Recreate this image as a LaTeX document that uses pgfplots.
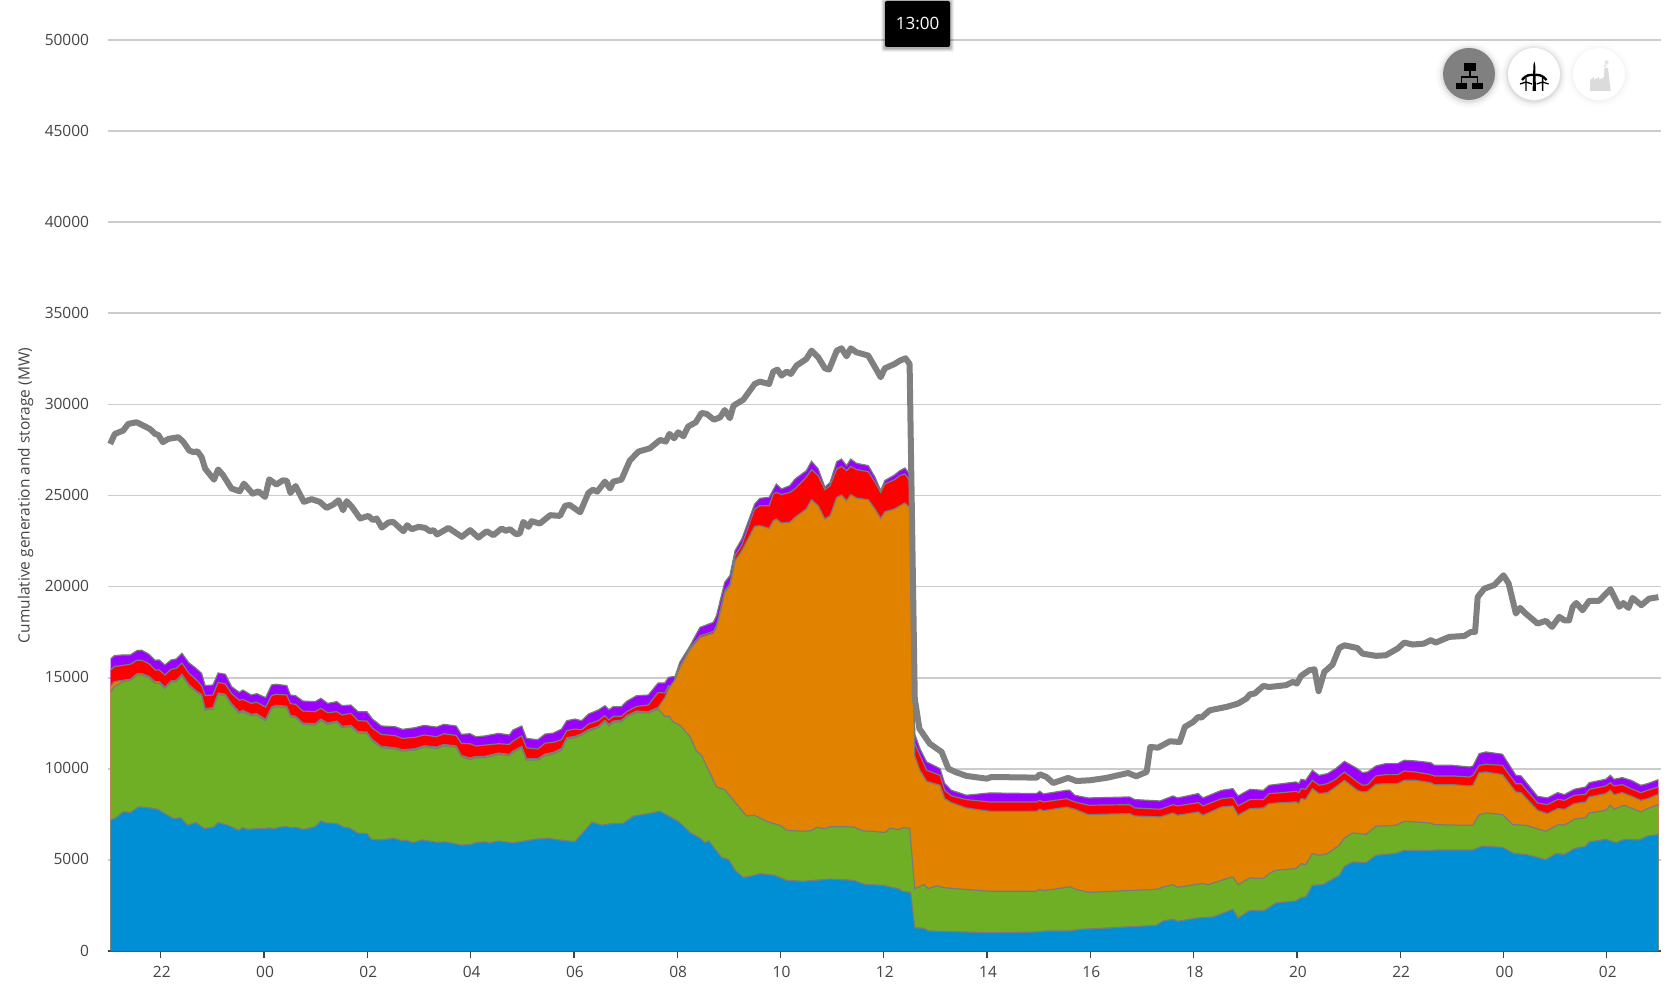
\documentclass[border=0pt]{standalone}
\usepackage{pgfplots}
\usepackage{pgfplotstable}
\pgfplotsset{compat=1.18}
\usepackage{fontspec}
\setmainfont{Open Sans}
\definecolor{cblue}{HTML}{008FD5}
\definecolor{cgreen}{HTML}{6FAF26}
\definecolor{corange}{HTML}{E28300}
\definecolor{cred}{HTML}{FF0000}
\definecolor{cpurple}{HTML}{9900FF}
\definecolor{cline}{HTML}{808080}
\definecolor{cedge}{HTML}{7A7A7A}
\definecolor{cgrid}{HTML}{CCCCCC}
\definecolor{ctext}{HTML}{444444}

\pgfplotstableread{
h v
-2.97 16030
-2.90 16210
-2.73 16250
-2.59 16250
-2.46 16490
-2.37 16510
-2.23 16290
-2.11 15960
-2.03 15975
-1.92 15700
-1.80 15975
-1.70 16030
-1.59 16340
-1.46 15830
-1.32 15520
-1.21 15240
-1.14 14565
-0.99 14600
-0.89 15260
-0.75 15190
-0.63 14510
-0.48 14200
-0.41 14325
-0.25 14050
-0.14 14125
0.03 13905
0.145 14600
0.23 14640
0.44 14565
0.51 14050
0.61 14015
0.75 13720
0.99 13685
1.10 13870
1.23 13590
1.41 13685
1.51 13465
1.68 13500
1.82 13135
1.99 13135
2.10 12730
2.27 12350
2.54 12310
2.68 12165
2.92 12255
3.10 12385
3.34 12290
3.48 12440
3.72 12350
3.82 11890
3.99 11925
4.10 11760
4.27 11800
4.54 11945
4.75 11855
4.82 12130
4.99 12350
5.08 11670
5.30 11595
5.44 11905
5.60 11960
5.76 12180
5.86 12640
6.02 12730
6.15 12640
6.28 13005
6.47 13225
6.60 13460
6.68 13245
6.76 13410
6.92 13410
7.02 13700
7.21 14010
7.44 14050
7.63 14710
7.76 14710
7.83 15020
7.96 15075
8.05 15840
8.25 16760
8.44 17760
8.70 18040
8.76 18400
8.92 20235
9.02 20600
9.12 21970
9.25 22610
9.50 24530
9.60 24845
9.78 24900
9.92 25630
10.02 25360
10.18 25540
10.28 25900
10.50 26360
10.60 26880
10.73 26460
10.86 25450
10.96 25720
11.09 26860
11.18 27000
11.28 26640
11.36 27000
11.47 26770
11.70 26640
11.83 26000
11.94 25270
12.02 25820
12.21 26130
12.31 26360
12.41 26510
12.50 26180
12.60 11900
12.70 11110
12.83 10380
13.09 10010
13.18 9190
13.31 8820
13.60 8550
14.05 8675
14.96 8640
15.02 8770
15.09 8620
15.54 8820
15.60 8820
15.70 8545
15.96 8400
16.76 8455
16.86 8310
17.35 8235
17.60 8510
17.69 8400
18.09 8640
18.18 8400
18.54 8820
18.76 8910
18.86 8510
19.09 8875
19.35 8820
19.46 9095
19.72 9185
19.98 9280
20.04 9190
20.08 9425
20.17 9370
20.30 9920
20.43 9640
20.59 9735
20.75 10010
20.92 10410
21.17 10010
21.27 9790
21.37 9830
21.53 10155
21.72 10285
21.95 10285
22.08 10470
22.30 10430
22.59 10340
22.66 10190
23.01 10190
23.34 10100
23.41 10155
23.53 10835
23.66 10925
23.98 10800
24.24 9645
24.34 9610
24.66 8490
24.85 8400
25.05 8690
25.18 8580
25.37 8875
25.59 9000
25.66 9240
25.98 9425
26.07 9645
26.14 9425
26.30 9515
26.47 9370
26.66 9095
26.79 9185
27.00 9405
}\tpurple

\pgfplotstableread{
h v
-2.97 15425
-2.90 15610
-2.73 15680
-2.59 15740
-2.46 15960
-2.37 15960
-2.23 15770
-2.11 15425
-2.03 15425
-1.92 15150
-1.80 15460
-1.70 15520
-1.59 15810
-1.46 15260
-1.32 14910
-1.21 14565
-1.14 14015
-0.99 14050
-0.89 14750
-0.75 14655
-0.63 14140
-0.48 13760
-0.41 13810
-0.25 13595
-0.14 13650
0.03 13390
0.145 14015
0.23 14090
0.44 14050
0.51 13575
0.61 13540
0.75 13170
0.99 13135
1.10 13320
1.23 13080
1.41 13135
1.51 12950
1.68 13045
1.82 12640
1.99 12620
2.10 12220
2.27 11890
2.54 11815
2.68 11670
2.92 11725
3.10 11855
3.34 11760
3.48 11925
3.72 11835
3.82 11395
3.99 11375
4.10 11250
4.27 11300
4.54 11375
4.75 11340
4.82 11525
4.99 11815
5.08 11155
5.30 11085
5.44 11410
5.60 11450
5.76 11600
5.86 12090
6.02 12180
6.15 12145
6.28 12455
6.47 12640
6.60 12915
6.68 12675
6.76 12880
6.92 12880
7.02 13130
7.21 13425
7.44 13500
7.63 14195
7.76 14160
7.83 14560
7.90 14420
7.96 15000
8.05 15620
8.25 16650
8.44 17300
8.70 17540
8.76 17850
8.92 19770
9.02 20140
9.12 21700
9.25 22280
9.50 24260
9.60 24440
9.78 24440
9.86 25080
9.92 25170
10.02 25050
10.18 25170
10.28 25360
10.50 26000
10.60 26420
10.73 26090
10.86 25320
10.96 25540
11.09 26460
11.18 26600
11.28 26360
11.36 26600
11.47 26420
11.70 26310
11.83 25720
11.94 25170
12.02 25630
12.21 25870
12.31 26090
12.41 26180
12.50 25815
12.60 11400
12.70 10740
12.83 9920
13.09 9640
13.18 8820
13.31 8510
13.60 8310
14.05 8180
14.96 8180
15.02 8270
15.09 8180
15.54 8360
15.70 8180
15.96 8000
16.76 8030
16.86 7850
17.35 7780
17.60 8030
17.69 7960
18.09 8145
18.18 7960
18.54 8360
18.76 8420
18.86 7960
19.09 8310
19.35 8310
19.46 8640
19.72 8690
19.98 8765
20.04 8700
20.08 8910
20.17 8875
20.30 9370
20.43 9095
20.59 9185
20.75 9425
20.92 9825
21.17 9280
21.27 9095
21.37 9130
21.53 9610
21.72 9680
21.95 9680
22.08 9880
22.30 9825
22.59 9680
22.66 9610
23.01 9610
23.34 9550
23.41 9645
23.53 10190
23.66 10250
23.98 10190
24.24 9185
24.34 9185
24.66 8125
24.85 8030
25.05 8325
25.18 8270
25.37 8545
25.59 8600
25.66 8875
25.98 9060
26.07 9240
26.14 9060
26.30 9130
26.47 8910
26.66 8690
26.79 8820
27.00 9000
}\tred

\pgfplotstableread{
h v
-2.97 14565
-2.90 14785
-2.73 14860
-2.59 14910
-2.46 15225
-2.37 15225
-2.23 15080
-2.11 14785
-2.03 14785
-1.92 14490
-1.80 14820
-1.70 14860
-1.59 15190
-1.46 14640
-1.32 14290
-1.21 14090
-1.14 13300
-0.99 13355
-0.89 14160
-0.75 14090
-0.63 13575
-0.48 13115
-0.41 13210
-0.25 12990
-0.14 13025
0.03 12715
0.145 13390
0.23 13485
0.44 13430
0.51 12935
0.61 12880
0.75 12510
0.99 12475
1.10 12730
1.23 12510
1.41 12620
1.51 12330
1.68 12385
1.82 12035
1.99 12020
2.10 11595
2.27 11230
2.54 11155
2.68 11050
2.92 11100
3.10 11265
3.34 11195
3.48 11340
3.72 11250
3.82 10735
3.99 10590
4.10 10680
4.27 10680
4.54 10865
4.75 10790
4.82 10975
4.99 11230
5.08 10550
5.30 10550
5.44 10810
5.60 10900
5.76 11120
5.86 11705
6.02 11780
6.15 11925
6.28 12145
6.47 12330
6.60 12660
6.68 12440
6.76 12620
6.92 12660
7.02 12915
7.21 13170
7.44 13130
7.63 13370
7.76 13900
7.83 14400
7.96 14900
8.05 15570
8.25 16570
8.44 17210
8.70 17450
8.76 17760
8.92 19680
9.02 20050
9.12 21420
9.25 21970
9.50 23310
9.60 23345
9.78 23200
9.86 23620
9.92 23710
10.02 23490
10.18 23530
10.28 23800
10.50 24260
10.60 24770
10.73 24440
10.86 23710
10.96 23890
11.09 24900
11.18 25030
11.28 24720
11.36 25050
11.47 24860
11.70 24770
11.83 24260
11.94 23750
12.02 24110
12.21 24260
12.31 24440
12.41 24590
12.50 24350
12.60 10700
12.70 9920
12.83 9315
13.09 9095
13.18 8360
13.31 8145
13.60 7850
14.05 7670
14.96 7670
15.02 7780
15.09 7700
15.54 7900
15.70 7780
15.96 7485
16.76 7540
16.86 7410
17.35 7360
17.60 7575
17.69 7450
18.09 7630
18.18 7450
18.54 7905
18.76 7960
18.86 7450
19.09 7815
19.35 7850
19.46 8090
19.72 8145
19.98 8180
20.04 8110
20.08 8360
20.17 8325
20.30 8910
20.43 8640
20.59 8690
20.75 9000
20.92 9370
21.17 8820
21.27 8730
21.37 8765
21.53 9150
21.72 9185
21.95 9185
22.08 9370
22.30 9370
22.59 9240
22.66 9130
23.01 9130
23.34 9060
23.41 9095
23.53 9790
23.66 9825
23.98 9680
24.24 8730
24.34 8690
24.66 7720
24.85 7540
25.05 7815
25.18 7780
25.37 8090
25.59 8180
25.66 8455
25.98 8640
26.07 8820
26.14 8580
26.30 8690
26.47 8510
26.66 8270
26.79 8360
27.00 8600
}\torange

\pgfplotstableread{
h v
-2.97 14235
-2.90 14510
-2.73 14785
-2.59 14860
-2.46 15150
-2.37 15150
-2.23 15000
-2.11 14690
-2.03 14690
-1.92 14420
-1.80 14750
-1.70 14785
-1.59 15115
-1.46 14565
-1.32 14235
-1.21 14015
-1.14 13230
-0.99 13280
-0.89 14090
-0.75 14015
-0.63 13500
-0.48 13045
-0.41 13135
-0.25 12915
-0.14 12950
0.03 12640
0.145 13320
0.23 13410
0.44 13355
0.51 12860
0.61 12805
0.75 12440
0.99 12400
1.10 12660
1.23 12440
1.41 12550
1.51 12255
1.68 12310
1.82 11960
1.99 11945
2.10 11525
2.27 11155
2.54 11085
2.68 10975
2.92 11030
3.10 11195
3.34 11120
3.48 11265
3.72 11175
3.82 10660
3.99 10515
4.10 10605
4.27 10605
4.54 10790
4.75 10715
4.82 10900
4.99 11155
5.08 10480
5.30 10480
5.44 10720
5.60 10810
5.76 11030
5.86 11630
6.02 11705
6.15 11850
6.28 12070
6.47 12255
6.60 12585
6.68 12365
6.76 12550
6.92 12585
7.02 12840
7.21 13095
7.44 13060
7.63 13280
7.76 12880
7.85 12880
7.92 12570
8.05 12390
8.25 11750
8.37 10980
8.47 10740
8.76 9000
8.92 8860
9.34 7410
9.50 7450
9.76 7080
9.99 6900
10.12 6625
10.44 6570
10.60 6605
10.70 6790
10.86 6715
10.96 6825
11.41 6810
11.60 6590
11.80 6570
12.02 6500
12.12 6735
12.28 6660
12.38 6770
12.50 6735
12.60 3420
12.78 3640
12.86 3420
13.02 3570
13.22 3460
14.05 3275
14.96 3275
15.02 3385
15.09 3310
15.47 3460
15.60 3530
15.73 3370
15.96 3220
16.44 3275
17.28 3385
17.41 3510
17.60 3640
17.69 3495
18.06 3660
18.18 3700
18.28 3640
18.70 4025
18.76 4060
18.86 3640
19.09 4010
19.35 3970
19.46 4245
19.59 4430
19.98 4520
20.08 4795
20.17 4740
20.30 5345
20.43 5250
20.59 5345
20.82 5800
20.92 6200
21.08 6480
21.34 6405
21.53 6845
21.92 6900
22.08 7120
22.56 7030
22.66 6935
23.21 6900
23.41 6900
23.53 7485
23.66 7575
23.98 7485
24.18 6935
24.43 6900
24.82 6570
25.08 6955
25.18 6900
25.37 7230
25.59 7320
25.66 7575
25.98 7720
26.07 8000
26.14 7780
26.34 8000
26.66 7630
26.79 7815
27.00 8035
}\tgreen

\pgfplotstableread{
h v
-2.97 7180
-2.87 7310
-2.73 7640
-2.59 7600
-2.43 7910
-2.23 7860
-2.06 7780
-1.89 7490
-1.75 7270
-1.61 7310
-1.48 6900
-1.32 7050
-1.15 6720
-0.97 6810
-0.89 7050
-0.70 6900
-0.49 6630
-0.41 6780
-0.32 6670
-0.14 6720
0.03 6720
0.10 6760
0.20 6720
0.30 6790
0.44 6830
0.51 6760
0.61 6795
0.75 6670
0.99 6810
1.10 7140
1.20 7030
1.41 7000
1.55 6790
1.65 6760
1.82 6465
1.99 6450
2.08 6120
2.27 6100
2.51 6190
2.68 6040
2.75 6080
2.89 5950
3.06 6100
3.34 5970
3.51 5990
3.82 5810
3.99 5840
4.10 5950
4.30 5990
4.35 5920
4.54 6040
4.82 5930
5.10 6060
5.24 6135
5.51 6190
5.70 6100
6.02 6000
6.35 7070
6.54 6900
6.74 7000
6.95 7000
7.15 7400
7.46 7550
7.665 7670
7.83 7410
8.02 7120
8.25 6500
8.44 6200
8.54 5950
8.61 6040
8.86 5140
9.00 5010
9.12 4430
9.28 4040
9.47 4135
9.60 4245
9.89 4150
10.12 3880
10.44 3825
10.96 3950
11.41 3880
11.63 3660
11.99 3600
12.28 3420
12.38 3260
12.52 3220
12.60 1280
12.78 1245
12.86 1100
13.09 1080
14.05 1005
14.96 1040
15.15 1100
15.60 1100
15.80 1190
16.31 1260
17.28 1410
17.41 1650
17.60 1740
17.69 1630
18.06 1810
18.38 1870
18.76 2290
18.86 1810
19.09 2230
19.35 2200
19.46 2380
19.59 2635
19.98 2745
20.08 2930
20.17 2965
20.30 3605
20.50 3640
20.82 4155
20.92 4650
21.08 4885
21.34 4850
21.53 5250
21.92 5360
22.08 5525
22.56 5510
22.69 5545
23.40 5545
23.59 5750
23.98 5690
24.21 5345
24.43 5305
24.82 5015
25.01 5345
25.18 5305
25.37 5620
25.59 5750
25.66 5985
25.98 6130
26.18 5950
26.34 6130
26.63 6095
26.79 6315
27.00 6385
}\tblue

\pgfplotstableread{
h v
-2.98 27830
-2.89 28380
-2.73 28560
-2.63 28930
-2.47 29020
-2.34 28840
-2.21 28650
-2.11 28380
-2.05 28330
-1.96 27930
-1.85 28110
-1.66 28200
-1.56 27930
-1.45 27470
-1.37 27380
-1.29 27420
-1.21 27110
-1.14 26470
-0.97 25870
-0.89 26430
-0.80 26140
-0.63 25380
-0.47 25230
-0.39 25650
-0.22 25100
-0.11 25230
0.02 24920
0.10 25890
0.24 25600
0.36 25830
0.44 25810
0.51 25140
0.61 25520
0.77 24650
0.92 24800
1.08 24650
1.21 24320
1.34 24500
1.44 24740
1.53 24190
1.60 24690
1.70 24380
1.86 23740
2.02 23880
2.11 23650
2.18 23740
2.28 23240
2.41 23520
2.50 23550
2.70 23040
2.77 23370
2.86 23150
2.99 23280
3.12 23220
3.21 23040
3.28 23100
3.35 22860
3.57 23220
3.83 22730
3.99 23100
4.15 22690
4.31 23040
4.44 22820
4.60 23190
4.68 23060
4.76 23150
4.88 22880
4.95 22910
5.02 23550
5.12 23280
5.18 23590
5.34 23460
5.54 23920
5.73 23880
5.83 24440
5.92 24480
6.12 24080
6.28 25140
6.37 25320
6.45 25210
6.60 25760
6.70 25390
6.76 25760
6.92 25870
7.08 26910
7.25 27410
7.47 27590
7.67 28050
7.78 27960
7.85 28380
7.94 28140
8.02 28470
8.12 28250
8.21 28780
8.36 29020
8.47 29530
8.57 29480
8.71 29160
8.83 29290
8.92 29690
9.02 29240
9.09 29930
9.28 30260
9.50 31120
9.60 31250
9.78 31120
9.86 31800
9.94 31910
10.02 31580
10.12 31800
10.20 31670
10.31 32130
10.50 32490
10.60 32950
10.73 32590
10.86 31980
10.94 31910
11.09 32950
11.18 33080
11.28 32640
11.36 33080
11.47 32860
11.70 32680
11.83 32040
11.94 31490
12.02 31980
12.21 32220
12.31 32400
12.42 32530
12.50 32220
12.60 13850
12.69 12200
12.89 11380
13.12 10925
13.25 10010
13.38 9830
13.60 9610
13.99 9460
14.09 9550
14.96 9515
15.02 9700
15.15 9550
15.28 9220
15.57 9500
15.73 9330
15.99 9370
16.31 9500
16.73 9770
16.89 9590
17.09 9830
17.16 11200
17.31 11160
17.54 11510
17.73 11470
17.83 12300
17.99 12570
18.09 12850
18.15 12810
18.31 13210
18.64 13400
18.86 13580
19.02 13850
19.09 14090
19.18 14130
19.35 14550
19.46 14490
19.79 14590
19.92 14770
20.00 14680
20.08 15100
20.24 15410
20.34 15460
20.42 14260
20.53 15320
20.69 15720
20.82 16630
20.92 16780
21.17 16630
21.27 16320
21.53 16200
21.72 16230
21.95 16600
22.08 16930
22.24 16820
22.46 16870
22.59 17060
22.69 16930
22.95 17240
23.24 17290
23.37 17510
23.45 17510
23.50 19430
23.63 19890
23.82 20080
24.00 20620
24.10 20170
24.24 18520
24.32 18830
24.43 18520
24.66 17970
24.82 18120
24.94 17790
25.08 18340
25.18 18150
25.27 18150
25.34 18890
25.41 19100
25.53 18700
25.66 19220
25.85 19220
26.07 19860
26.24 18890
26.32 19100
26.42 18830
26.50 19380
26.67 18980
26.82 19340
27.00 19420
}\tline

\begin{document}
\begin{tikzpicture}[x=1pt,y=1pt]
\path[use as bounding box] (0,0) rectangle (1670,983);
\begin{axis}[
  at={(107.6pt,32pt)},anchor=south west,
  scale only axis,width=1553.4pt,height=911pt,
  xmin=-3.03,xmax=27.05,ymin=0,ymax=50000,
  axis x line*=bottom,axis y line*=left,
  x axis line style={-,color=ctext,line width=1.4pt},
  y axis line style={draw=none},
  xtick={-2,0,2,4,6,8,10,12,14,16,18,20,22,24,26},
  xticklabels={22,00,02,04,06,08,10,12,14,16,18,20,22,00,02},
  ytick={0,5000,10000,15000,20000,25000,30000,35000,40000,45000,50000},
  ymajorgrids,
  major grid style={color=cgrid,line width=1.6pt},
  y tick style={draw=none},
  x tick style={color=ctext,line width=1.2pt},
  major tick length=7pt,
  tick align=outside,
  /pgf/number format/assume math mode=true,
  /pgf/number format/set thousands separator={},
  scaled y ticks=false,
  tick label style={font=\fontsize{15.5}{18}\selectfont,text=ctext},
  yticklabel style={anchor=east,xshift=-8pt,yshift=0.5pt},
  xticklabel style={yshift=-5pt,xshift=1pt},
  ylabel={Cumulative generation and storage (MW)},
  every axis y label/.style={at={(axis description cs:0,0.5)},rotate=90,anchor=center,yshift=82pt,font=\fontsize{15.5}{18}\selectfont,text=ctext},
  clip=true,
]
\addplot[fill=cpurple,draw=none] table[x=h,y=v]{\tpurple} \closedcycle;
\addplot[color=cedge,line width=1.2pt] table[x=h,y=v]{\tpurple};
\addplot[fill=cred,draw=none] table[x=h,y=v]{\tred} \closedcycle;
\addplot[color=cedge,line width=1.2pt] table[x=h,y=v]{\tred};
\addplot[fill=corange,draw=none] table[x=h,y=v]{\torange} \closedcycle;
\addplot[color=cedge,line width=1.2pt] table[x=h,y=v]{\torange};
\addplot[fill=cgreen,draw=none] table[x=h,y=v]{\tgreen} \closedcycle;
\addplot[color=cedge,line width=1.2pt] table[x=h,y=v]{\tgreen};
\addplot[fill=cblue,draw=none] table[x=h,y=v]{\tblue} \closedcycle;
\addplot[color=cedge,line width=1.2pt] table[x=h,y=v]{\tblue};
\addplot[color=cline,line width=6pt,line join=round] table[x=h,y=v]{\tline};
\end{axis}
% time tooltip
\foreach \k/\o in {4/0.05,3/0.08,2/0.1,1/0.12}
  \fill[black,opacity=\o,rounded corners=2] (885-\k,936-\k-1) rectangle (950+\k,982+\k-1);
\fill[black,rounded corners=2] (885,936) rectangle (950,982);
\node[text=white,font=\fontsize{17}{18}\selectfont] at (917.5,959.5) {13:00};
% round buttons
\foreach \cx/\fc/\oa/\ob/\oc/\od in {1469/808080/0.015/0.025/0.04/0.05,1534/FFFFFF/0.015/0.025/0.04/0.05,1599/FFFFFF/0.004/0.008/0.012/0.015}{
  \definecolor{fcc}{HTML}{\fc}
  \fill[black,opacity=\oa] (\cx,908) circle (33);
  \fill[black,opacity=\ob] (\cx,908) circle (31);
  \fill[black,opacity=\oc] (\cx,908) circle (29);
  \fill[black,opacity=\od] (\cx,908) circle (27.5);
  \fill[fcc] (\cx,909) circle (26);
}
% network icon
\fill[black] (1464,912) rectangle (1475.7,920);
\fill[black] (1456,893.7) rectangle (1467,900.3);
\fill[black] (1471.7,893.7) rectangle (1483.3,900.3);
\draw[black,line width=1.4] (1470,912) -- (1470,906) (1461.5,900.3) -- (1461.5,906) -- (1477.5,906) -- (1477.5,900.3);
% turbine icon
\fill[black] (1532.6,892) -- (1536,892) -- (1535.2,918) -- (1534.3,921.5) -- (1533.4,918) -- cycle;
\draw[black,line width=2.4] (1522,903) .. controls (1527,909) and (1530,908) .. (1534.3,908) .. controls (1538.5,908) and (1541,909) .. (1546.5,903);
\draw[black,line width=1.3] (1526,892) -- (1526,905) (1526,901) -- (1520,899) (1526,901) -- (1532,899);
\draw[black,line width=1.3] (1542.6,892) -- (1542.6,905) (1542.6,901) -- (1536.6,899) (1542.6,901) -- (1548.6,899);
% factory icon
\fill[black!14] (1590,892) -- (1590,903) -- (1594,906) -- (1594,903) -- (1599,906) -- (1599,903) -- (1604,906) -- (1604.5,915) -- (1608,915) -- (1610.7,892) -- cycle;
\fill[black!10] (1605,917) circle (1.6) (1606.5,920.5) circle (2.2);
\end{tikzpicture}
\end{document}
